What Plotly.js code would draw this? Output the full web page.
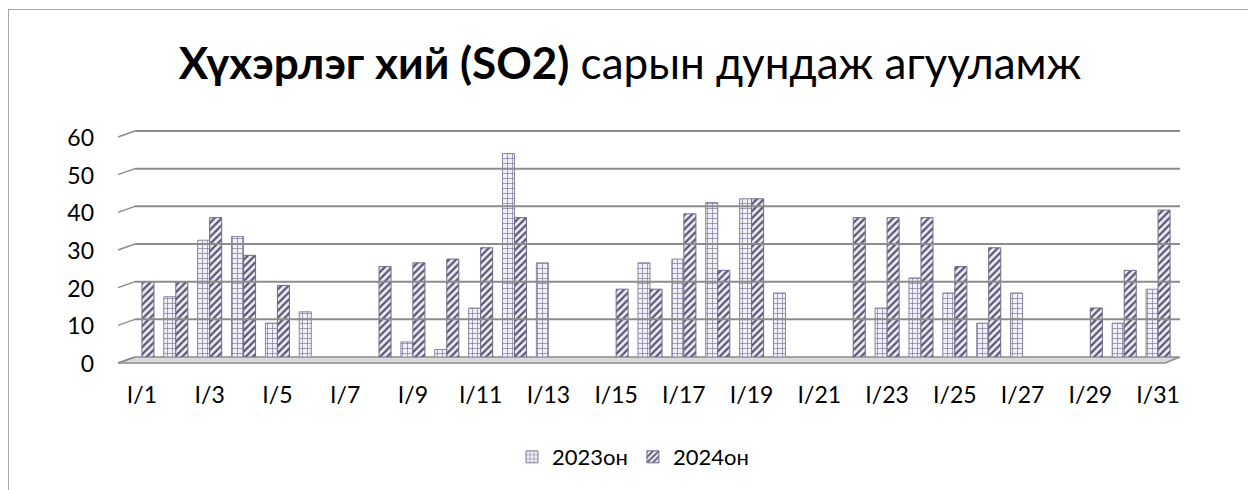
<!DOCTYPE html>
<html><head><meta charset="utf-8">
<script src="https://cdn.plot.ly/plotly-3.0.1.min.js"></script>
<style>
html,body{margin:0;padding:0;background:#fff;overflow:hidden;}
#frame{position:absolute;left:8px;top:9px;width:1400px;height:700px;border-left:1.5px solid #a6a6a6;border-top:1.5px solid #a6a6a6;}
#chart{position:absolute;left:0;top:0;width:1248px;height:490px;}
</style></head><body>
<div id="frame"></div><div id="chart"></div>
<script>
const categories = ['I/1','I/2','I/3','I/4','I/5','I/6','I/7','I/8','I/9','I/10','I/11','I/12','I/13','I/14','I/15','I/16','I/17','I/18','I/19','I/20','I/21','I/22','I/23','I/24','I/25','I/26','I/27','I/28','I/29','I/30','I/31'];
const tickLabels = ['I/1','I/3','I/5','I/7','I/9','I/11','I/13','I/15','I/17','I/19','I/21','I/23','I/25','I/27','I/29','I/31'];
const values2023 = [null,16,31,32,9,12,null,null,4,2,13,54,25,null,null,25,26,41,42,17,null,null,13,21,17,9,17,null,null,9,18];
const values2024 = [20,20,37,27,19,null,null,24,25,26,29,37,null,null,18,18,38,23,42,null,null,37,37,37,24,29,null,null,13,23,39];
const yTicks = [0,10,20,30,40,50,60];
const seriesNames = ['2023он','2024он'];

const FONT = 'Lato, "Open Sans", sans-serif';
const plotW = 1050, plotH = 226, yMax = 60;

const traces = [
  {type:'bar', name:seriesNames[0], x:categories, y:values2023,
   marker:{color:'#efedf5', line:{color:'#8a85a0', width:1},
     pattern:{shape:'+', fgcolor:'#7a7592', bgcolor:'#f1eff7', size:5, solidity:0.25}}},
  {type:'bar', name:seriesNames[1], x:categories, y:values2024,
   marker:{color:'#ebe8f3', line:{color:'#6f6a88', width:1},
     pattern:{shape:'/', fgcolor:'#595470', bgcolor:'#eeebf5', size:5, solidity:0.45}}}
];

const shapes = [];
const dx = 6/plotH;
yTicks.forEach(v => {
  const p = v / yMax;
  if (v > 0) {
    shapes.push({type:'line', xref:'paper', yref:'paper', x0:10/plotW, x1:1+5/plotW, y0:p, y1:p,
      line:{color:'#8c8c8c', width:2}});
  }
  shapes.push({type:'line', xref:'paper', yref:'paper', x0:-7/plotW, x1:10/plotW, y0:p-dx, y1:p,
    line:{color:'#8c8c8c', width:1.5}});
});
// floor
shapes.push({type:'path', xref:'paper', yref:'paper',
  path:`M ${-7/plotW} ${-dx} L ${1-10/plotW} ${-dx} L ${1+5/plotW} 0 L ${10/plotW} 0 Z`,
  fillcolor:'#d9d9d9', line:{color:'#8c8c8c', width:1.5}, layer:'below'});

const layout = {
  width:1248, height:490,
  margin:{l:125, r:73, t:131, b:133},
  paper_bgcolor:'rgba(0,0,0,0)', plot_bgcolor:'rgba(0,0,0,0)',
  title:{text:'<b>Хүхэрлэг хий (SO2)</b> сарын дундаж агууламж',
    font:{family:FONT, size:44, color:'#000'},
    xref:'container', x:630/1248, xanchor:'center',
    yref:'container', y:1-64/490, yanchor:'middle'},
  barmode:'group', bargap:0.29, bargroupgap:0,
  xaxis:{type:'category', tickvals:tickLabels, ticktext:tickLabels,
    showgrid:false, showline:false, zeroline:false, ticks:'',
    tickfont:{family:FONT, size:23, color:'#000'}, ticklabelstandoff:22},
  yaxis:{range:[0,yMax], tickvals:yTicks, showgrid:false, showline:false, zeroline:false, ticks:'',
    tickfont:{family:FONT, size:23, color:'#000'}, ticklabelstandoff:30, ticklabelshift:7},
  legend:{orientation:'h', x:(633-125)/plotW, xanchor:'center', y:(357-457)/plotH, yanchor:'middle',
    font:{family:FONT, size:22, color:'#000'}, traceorder:'normal', itemwidth:30},
  shapes:shapes,
  showlegend:true
};

Plotly.newPlot('chart', traces, layout, {displayModeBar:false, staticPlot:true});
</script>
</body></html>
